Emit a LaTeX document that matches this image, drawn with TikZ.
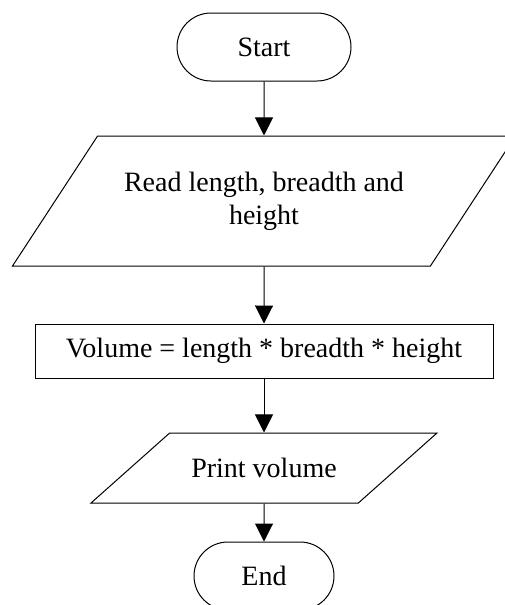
\documentclass[tikz,border=0pt]{standalone}
\usepackage{fontspec}
\setmainfont{Liberation Serif}
\usetikzlibrary{shapes.geometric, shapes.misc, positioning, arrows.meta}

\tikzset{
  terminal/.style={draw, rounded rectangle, minimum height=68pt, inner sep=4pt},
  io/.style={draw, trapezium, trapezium stretches body, inner sep=4pt},
  process/.style={draw, rectangle, minimum width=458pt, minimum height=54pt, inner sep=4pt}
}

\begin{document}
\begin{tikzpicture}[node distance=150pt, >={Triangle[length=18pt,width=18pt]}, line width=1pt, font=\fontsize{28}{33}\selectfont]
            \useasboundingbox (0,0) rectangle (505pt,-605pt);
            \clip (0,0) rectangle (505pt,-605pt);
            \node[terminal, minimum width=182pt] (start) at (264pt,-47pt) {Start};
            \node[io, trapezium left angle=38, trapezium right angle=142, minimum width=503pt, minimum height=130pt, align=center, below of=start, node distance=154pt] (read) {Read length, breadth and\\height};
            \node[process, below of=read] (calc) {Volume = length * breadth * height};
            \node[io, trapezium left angle=19.4, trapezium right angle=160.6, minimum width=346pt, minimum height=70pt, below of=calc, node distance=117pt] (print) {Print volume};
            \node[terminal, minimum width=148pt, below of=print, node distance=108pt] (end) {End};

            \draw[->] (start) -- (read);
            \draw[->] (read) -- (calc);
            \draw[->] (calc) -- (print);
            \draw[->] (print) -- (end);
        \end{tikzpicture}
\end{document}
